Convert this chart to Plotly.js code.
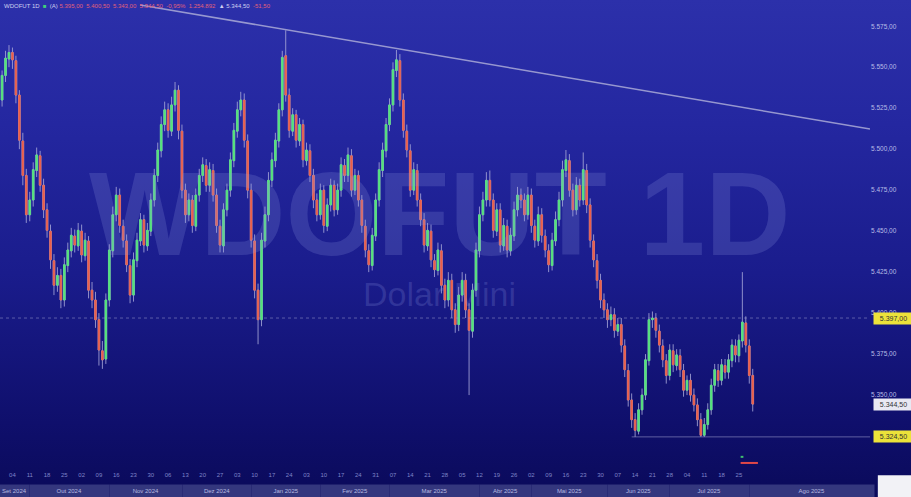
<!DOCTYPE html>
<html><head><meta charset="utf-8">
<script src="https://cdn.plot.ly/plotly-3.0.1.min.js"></script>
<style>
html,body{margin:0;padding:0;width:911px;height:497px;overflow:hidden;
background:linear-gradient(to bottom,#2c30aa 0%,#2427a0 25%,#1a1c8c 55%,#0f0f6c 85%,#0a0a5a 100%);}
#chart{width:911px;height:497px;}
</style></head><body>
<div id="chart"></div>
<script>
// ---- data ----
const opens = [5530,5545,5555,5559,5554,5533,5505,5484,5460,5469,5487,5496,5478,5463,5450,5432,5417,5423,5408,5429,
5438,5447,5441,5450,5435,5444,5414,5408,5396,5377,5372,5408,5438,5460,5472,5453,5444,5429,5411,5432,
5444,5457,5441,5450,5469,5484,5499,5515,5524,5511,5527,5536,5511,5475,5460,5469,5453,5472,5484,5490,
5478,5487,5472,5453,5441,5463,5475,5493,5511,5524,5530,5505,5475,5444,5414,5396,5444,5460,5481,5493,
5505,5524,5557,5533,5511,5521,5505,5515,5493,5499,5484,5469,5460,5475,5453,5466,5478,5463,5475,5490,
5484,5496,5475,5484,5469,5453,5438,5429,5447,5469,5487,5499,5515,5527,5548,5554,5530,5511,5499,5475,
5487,5469,5457,5441,5450,5432,5426,5438,5417,5408,5420,5402,5393,5411,5420,5402,5389,5414,5438,5460,
5469,5481,5469,5450,5463,5441,5453,5438,5447,5463,5472,5469,5460,5472,5453,5444,5460,5447,5438,5429,
5444,5457,5469,5487,5493,5475,5463,5478,5469,5487,5466,5444,5432,5420,5408,5402,5396,5399,5389,5393,
5380,5365,5347,5335,5328,5341,5350,5371,5396,5397,5389,5380,5371,5362,5377,5368,5374,5365,5353,5359,
5350,5344,5335,5325.5,5332,5341,5356,5365,5359,5368,5364,5371,5380,5374,5383,5394,5380,5362];
const highs = [5548,5560,5563.5,5562,5557,5536,5510,5488,5474,5492,5501,5499,5482,5467,5454,5436,5428,5427,5434,5443,
5452,5451,5455,5454,5449,5447,5419,5413,5400,5383,5412,5442,5465,5477,5476,5457,5448,5433,5437,5449,
5461,5460,5455,5473,5488,5504,5520,5529,5528,5532,5541,5539,5515,5479,5473,5472,5476,5488,5495,5494,
5492,5491,5476,5457,5467,5479,5498,5516,5529,5535,5534,5509,5479,5448,5418,5449,5465,5486,5498,5510,
5528,5560,5572.5,5537,5525,5524,5519,5518,5504,5503,5488,5473,5479,5478,5470,5482,5481,5479,5495,5494,
5501,5500,5488,5487,5472,5457,5442,5452,5473,5492,5504,5519,5531,5553,5560.5,5558,5534,5515,5503,5492,
5491,5473,5461,5455,5454,5436,5443,5442,5421,5425,5424,5406,5416,5425,5424,5406,5418,5443,5465,5474,
5486,5487,5473,5467,5467,5458,5457,5452,5468,5477,5476,5473,5477,5476,5457,5465,5464,5451,5442,5449,
5462,5474,5493,5499.5,5497,5479,5483,5482,5498,5491,5470,5448,5436,5424,5412,5406,5404,5403,5397,5397,
5384,5369,5351,5339,5345,5354,5375,5400,5401,5400,5393,5384,5375,5381,5381,5378,5378,5369,5362,5363,
5354,5348,5339,5336,5345,5360,5369,5369,5372,5372,5375,5384,5384,5387,5425,5398,5384,5366];
const lows = [5526,5541,5550,5549,5528,5500,5478,5455,5456,5465,5483,5474,5458,5446,5427,5411,5413,5403,5404,5425,
5434,5437,5438,5431,5432,5409,5403,5391,5368,5366,5369,5404,5434,5456,5449,5440,5425,5406,5407,5428,
5441,5437,5438,5447,5465,5480,5495,5511,5507,5508,5523,5506,5470,5455,5456,5449,5450,5468,5480,5474,
5474,5468,5449,5437,5437,5459,5471,5489,5507,5520,5501,5470,5440,5409,5381,5392,5440,5456,5477,5489,
5501,5520,5529,5507,5508,5501,5502,5489,5490,5480,5464,5456,5457,5449,5450,5462,5459,5460,5471,5480,
5480,5471,5472,5465,5449,5434,5425,5426,5444,5465,5483,5495,5511,5523,5544,5526,5507,5495,5471,5472,
5465,5453,5437,5438,5428,5422,5423,5412,5403,5404,5397,5388,5389,5407,5397,5350,5385,5410,5434,5456,
5465,5465,5446,5447,5437,5438,5434,5435,5444,5459,5464,5456,5457,5449,5440,5441,5443,5434,5425,5426,
5441,5453,5465,5483,5471,5459,5460,5465,5466,5461,5440,5428,5415,5403,5397,5391,5392,5385,5386,5376,
5361,5343,5330,5324.5,5326,5338,5347,5368,5391,5385,5376,5367,5357,5359,5364,5365,5361,5349,5350,5346,
5340,5331,5324.5,5324.5,5329,5338,5352,5355,5356,5360,5360,5367,5370,5370,5379,5376,5357,5340];
const closes = [5545,5555.5,5559,5554.5,5533,5505.5,5484,5460,5469,5487.5,5496.5,5478,5463,5450.5,5432.5,5417,5423,5408,5429.5,5438.5,
5447.5,5441.5,5450.5,5435.5,5444.5,5414,5408,5396,5377.5,5371.5,5408,5438.5,5460,5472,5453.5,5444.5,5429.5,5411,5432.5,5444.5,
5457,5441.5,5450.5,5469,5484,5499.5,5515,5524,5511.5,5527,5536,5511.5,5475,5460,5469,5453.5,5472,5484,5490.5,5478,
5487.5,5472,5453.5,5441.5,5463,5475,5493.5,5511.5,5524,5530,5505.5,5475,5444.5,5414,5396,5444.5,5460,5481,5493.5,5505.5,
5524,5556,5533,5511.5,5521,5505.5,5515,5493.5,5499.5,5484,5469,5460,5475,5453.5,5466,5478,5463,5475,5490.5,5484,
5496.5,5475,5484,5469,5453.5,5438.5,5429.5,5447.5,5469,5487.5,5499.5,5515,5527,5548.5,5554.5,5530,5511.5,5499.5,5475,5487.5,
5469,5457,5441.5,5450.5,5432.5,5426.5,5438.5,5417,5408,5420,5402,5393,5411,5420,5402,5389.5,5414,5438.5,5460,5469,
5481,5469,5450.5,5463,5441.5,5453.5,5438.5,5447.5,5463,5472,5469,5460,5472,5453.5,5444.5,5460,5447.5,5438.5,5429.5,5444.5,
5457,5469,5487.5,5493.5,5475,5463,5478,5469,5487.5,5466,5444.5,5432.5,5420,5408,5402,5396,5399,5389.5,5393,5380.5,
5365.5,5347,5335,5328.5,5341,5350,5371.5,5396,5397,5389.5,5380.5,5371.5,5362,5377.5,5368.5,5374.5,5365.5,5353,5359,5350,
5344,5335,5325.5,5332,5341,5356,5365.5,5359,5368.5,5364,5371.5,5380.5,5374.5,5383.5,5394.5,5380.5,5362,5344.5];

const priceTicks = [5350,5375,5400,5425,5450,5475,5500,5525,5550,5575];
const priceTickText = ['5.350,00','5.375,00','5.400,00','5.425,00','5.450,00','5.475,00','5.500,00','5.525,00','5.550,00','5.575,00'];
const dayTickPos = [3,8,13,18,23,28,33,38,43,48,53,58,63,68,73,78,83,88,93,98,103,108,113,118,123,128,133,138,143,148,153,158,163,168,173,178,183,188,193,198,203,208,213];
const dayTickText = ['04','11','18','25','02','09','16','23','30','06','13','20','27','03','10','17','24','03','10','17','24','31','07','14','21','28','05','12','19','26','02','09','16','23','30','07','14','21','28','04','11','18','25'];
const monthStarts = [-0.6,8,31,52,72,92,112,138,153,175,193,216,252];
const monthLabels = ['Set 2024','Out 2024','Nov 2024','Dez 2024','Jan 2025','Fev 2025','Mar 2025','Abr 2025','Mai 2025','Jun 2025','Jul 2025','Ago 2025'];
const trendX = [39.9, 250.9];
const trendY = [5588, 5512.3];
const supportLevel = 5397;
const lowLevel = 5324.5;
const lowLevelStart = 182;
const lastPrice = 5344.5;
const tradeMarkX = [213.5, 218.5];   // small execution marker under the last candles

// ---- build ----
const idx = closes.map((_, i) => i);
const bodyHigh = closes.map((c, i) => Math.max(c, opens[i]));
const bodyLow = closes.map((c, i) => Math.min(c, opens[i]));
const wickCol = 'rgba(165,165,215,0.85)';
const GREEN = '#52e57a', RED = '#ec5f4a';

const traces = [
  {type:'candlestick', x:idx, open:opens, high:highs, low:lows, close:closes,
   increasing:{line:{color:wickCol,width:1},fillcolor:wickCol},
   decreasing:{line:{color:wickCol,width:1},fillcolor:wickCol},
   whiskerwidth:0, hoverinfo:'skip', showlegend:false},
  {type:'candlestick', x:idx, open:opens, high:bodyHigh, low:bodyLow, close:closes,
   increasing:{line:{color:GREEN,width:0.6},fillcolor:GREEN},
   decreasing:{line:{color:RED,width:0.6},fillcolor:RED},
   whiskerwidth:0, hoverinfo:'skip', showlegend:false},
  {type:'scatter', mode:'lines', x:trendX, y:trendY,
   line:{color:'rgba(170,170,215,0.85)',width:1.5}, hoverinfo:'skip', showlegend:false}
];

const shapes = [
  {type:'line', xref:'paper', x0:0, x1:1, yref:'y', y0:supportLevel, y1:supportLevel,
   line:{color:'rgba(150,150,200,0.55)', width:1, dash:'dot'}},
  {type:'line', xref:'x', x0:lowLevelStart, x1:250.9, yref:'y', y0:lowLevel, y1:lowLevel,
   line:{color:'rgba(150,150,200,0.6)', width:1}},
  {type:'rect', xref:'paper', yref:'paper', x0:1.009, x1:1.05, y0:-0.06, y1:-0.011,
   fillcolor:'#f2f2f6', line:{width:0}},
  {type:'line', xref:'x', yref:'paper', x0:tradeMarkX[0], x1:tradeMarkX[1], y0:0.015, y1:0.015,
   line:{color:'#e04848', width:2}},
  {type:'line', xref:'x', yref:'paper', x0:tradeMarkX[0], x1:tradeMarkX[0]+0.8, y0:0.028, y1:0.028,
   line:{color:'#40c070', width:2}}
];

const wmFont = 'Liberation Sans, Arial';
const annotations = [
  {text:'<b>WDOFUT 1D</b>', xref:'paper', yref:'paper', x:0.505, y:0.545, showarrow:false,
   font:{family:wmFont, size:118, color:'rgba(140,150,225,0.22)'}, xanchor:'center', yanchor:'middle'},
  {text:'Dolar Mini', xref:'paper', yref:'paper', x:0.505, y:0.375, showarrow:false,
   font:{family:wmFont, size:34, color:'rgba(140,150,225,0.22)'}, xanchor:'center', yanchor:'middle'},
  {text:'WDOFUT 1D  <span style="color:#3fd07a">■</span>  <span style="color:#cfd0f0">(A)</span> <span style="color:#e0607a">5.395,00  5.400,50  5.343,00  5.344,50  -0,95%  1.254.892</span>  <span style="color:#cfd0f0">▲ 5.344,50</span>  <span style="color:#e0607a">-51,50</span>',
   xref:'paper', yref:'paper', x:0.002, y:1, xanchor:'left', yanchor:'top', yshift:-1, showarrow:false,
   font:{family:wmFont, size:6, color:'#cfd0f0'}},
  {text:priceFmt(supportLevel), xref:'paper', yref:'y', x:1.003, y:supportLevel, xanchor:'left', yanchor:'middle', showarrow:false,
   bgcolor:'#ece23a', font:{family:wmFont, size:7, color:'#333'}, width:37, height:9},
  {text:priceFmt(lastPrice), xref:'paper', yref:'y', x:1.003, y:lastPrice, xanchor:'left', yanchor:'middle', showarrow:false,
   bgcolor:'#e8e8f2', font:{family:wmFont, size:7, color:'#333'}, width:37, height:9},
  {text:priceFmt(lowLevel), xref:'paper', yref:'y', x:1.003, y:lowLevel, xanchor:'left', yanchor:'middle', showarrow:false,
   bgcolor:'#ece23a', font:{family:wmFont, size:7, color:'#333'}, width:37, height:9}
];
function priceFmt(v){
  const s = v.toFixed(2).split('.');
  return s[0].replace(/\B(?=(\d{3})+(?!\d))/g,'.') + ',' + s[1];
}
for (let k = 0; k < monthLabels.length; k++) {
  const a = monthStarts[k], b = monthStarts[k+1];
  annotations.push({text:monthLabels[k], xref:'x', yref:'paper', x:(a+b)/2, y:-0.0447,
    xanchor:'center', yanchor:'middle', showarrow:false, bgcolor:'#34377e',
    width:Math.max((b-a)*3.46-3, 10), height:10,
    font:{family:wmFont, size:6, color:'#b8bbe0'}});
}

const layout = {
  width:911, height:497,
  margin:{l:0, r:41, t:0, b:27},
  paper_bgcolor:'rgba(0,0,0,0)', plot_bgcolor:'rgba(0,0,0,0)',
  showlegend:false,
  xaxis:{range:[-0.6,250.9], rangeslider:{visible:false}, showgrid:false, zeroline:false,
    tickvals:dayTickPos, ticktext:dayTickText, ticks:'', tickfont:{size:6, color:'#7f84c8', family:wmFont},
    showline:false, fixedrange:true},
  yaxis:{side:'right', range:[5304.3,5591], tickvals:priceTicks, ticktext:priceTickText,
    showgrid:false, zeroline:false, ticks:'', tickfont:{size:6.5, color:'#b8bce6', family:wmFont},
    showline:false, fixedrange:true},
  shapes:shapes, annotations:annotations
};
Plotly.newPlot('chart', traces, layout, {staticPlot:true, displayModeBar:false});
</script>
</body></html>
